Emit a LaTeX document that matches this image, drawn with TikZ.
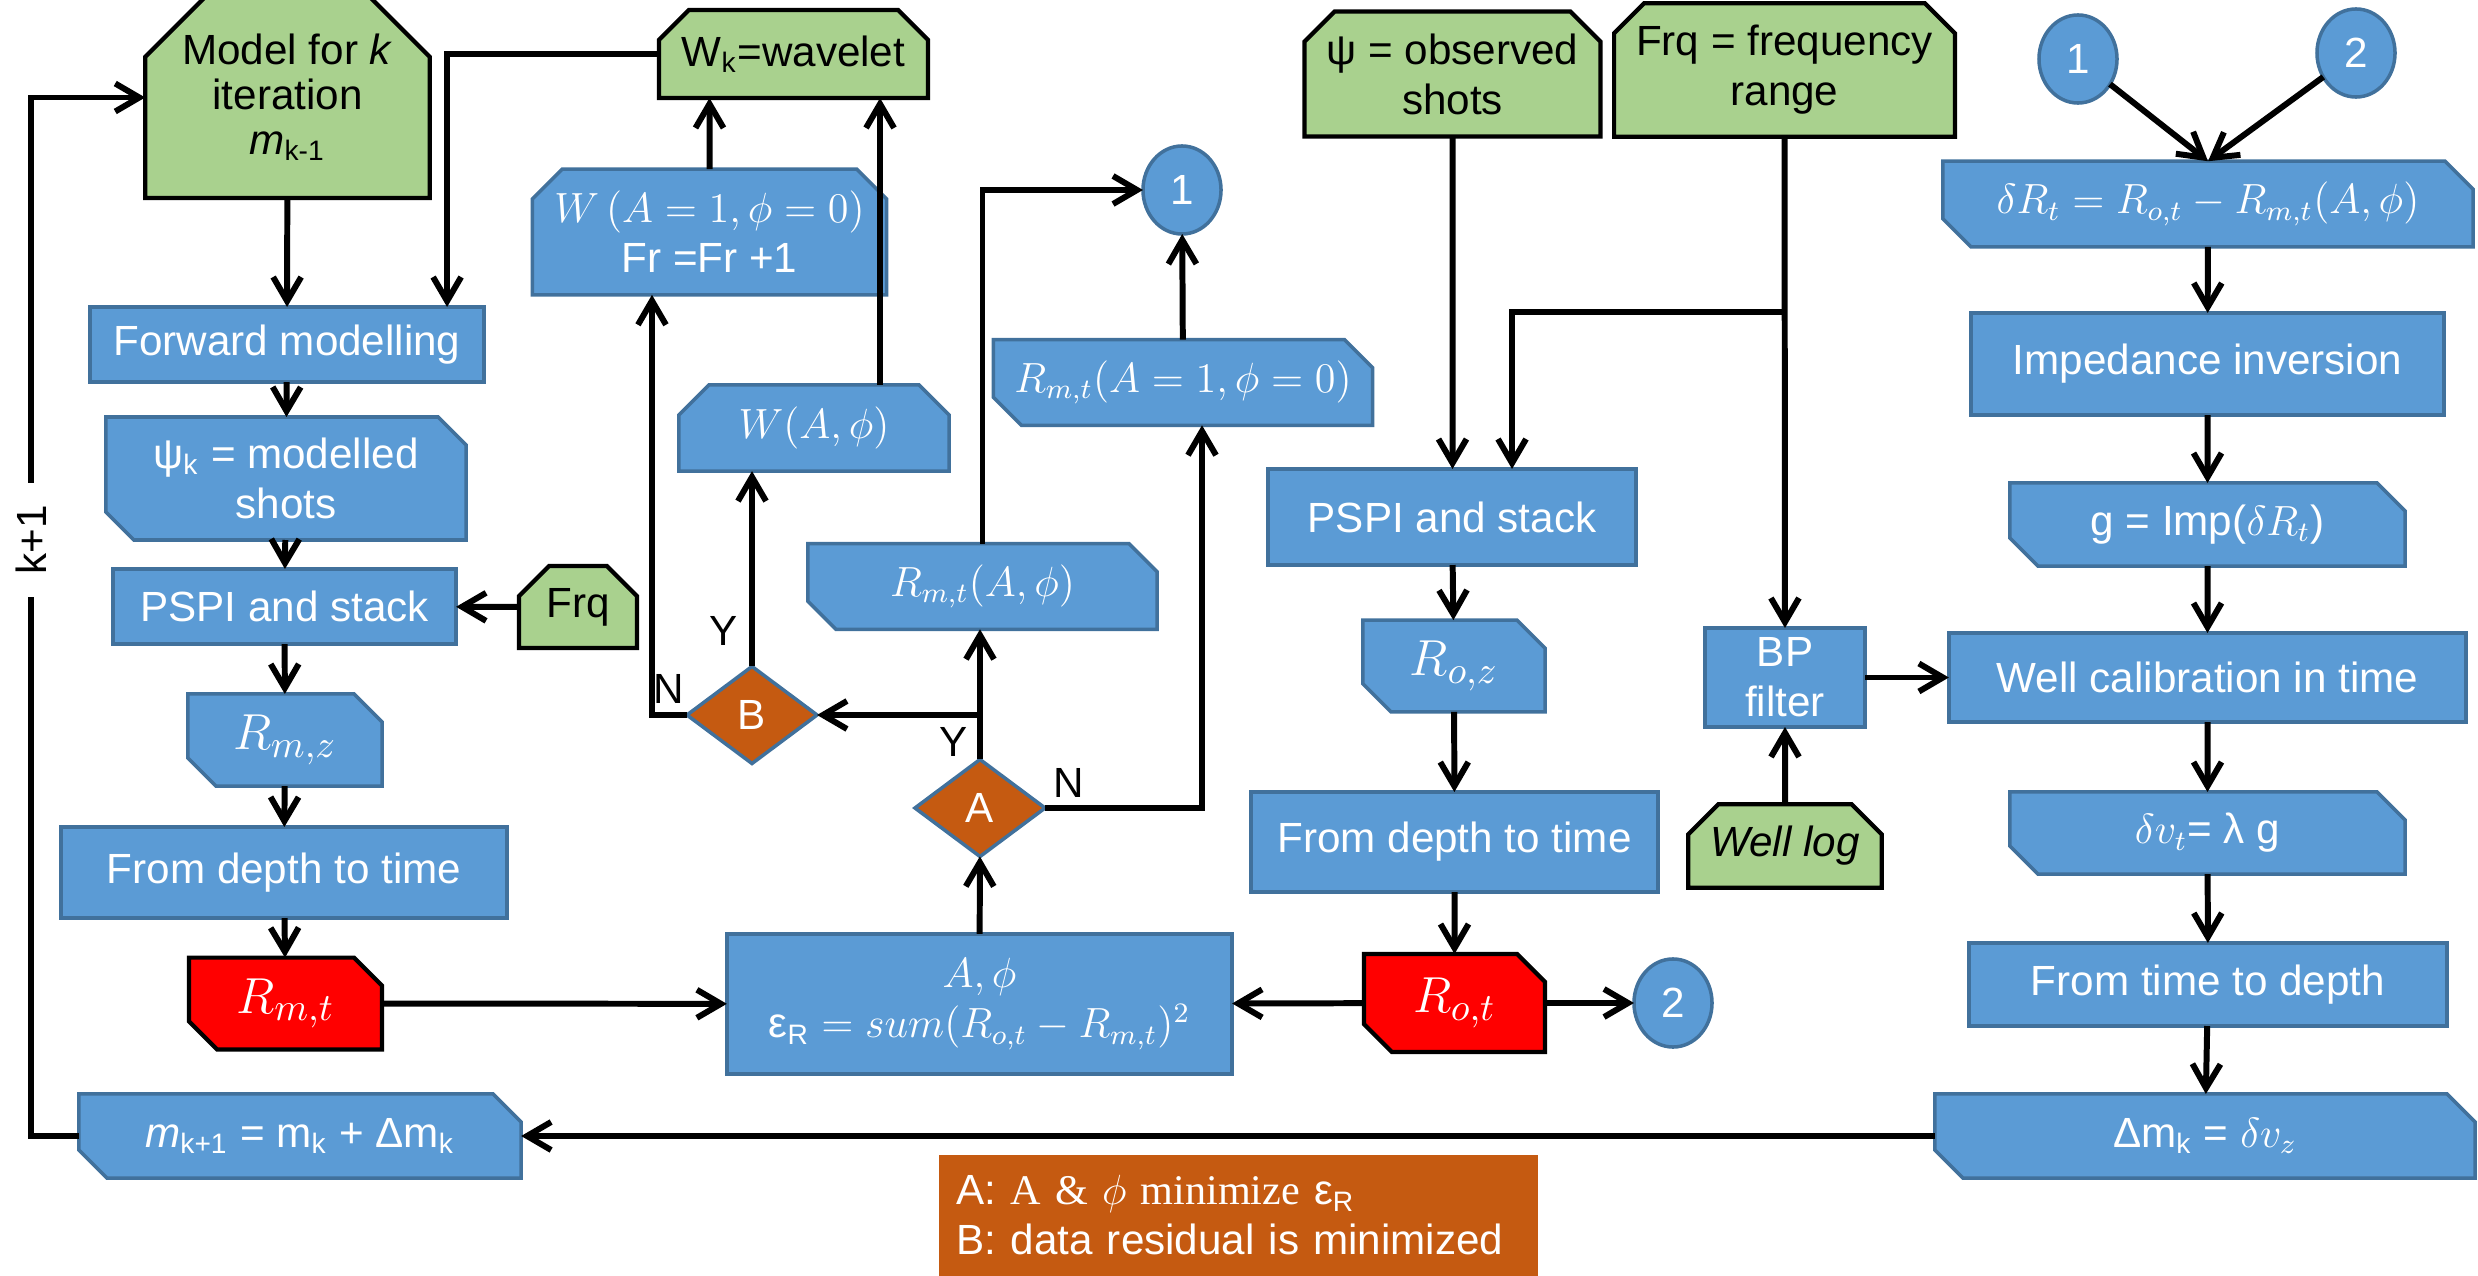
\documentclass[tikz,border=0pt]{standalone}
\usepackage{fontspec}
\setmainfont{Liberation Sans}
\newfontfamily\serifface{Liberation Serif}
\usepackage{tikz}
\usetikzlibrary{
	arrows.meta,
	shapes.geometric,
	shapes.misc
}
\definecolor{BoxBlue}{RGB}{91,155,213}
\definecolor{EdgeBlue}{RGB}{65,113,156}
\definecolor{LeafGreen}{RGB}{169,209,142}
\definecolor{RustOrange}{RGB}{197,90,17}
\definecolor{HotRed}{RGB}{255,0,0}

\begin{document}
\begin{tikzpicture}[x=0.01cm, y=-0.01cm,
		every node/.style={font=\fontsize{12}{14.2}\selectfont, align=center, inner sep=2pt, outer sep=0pt},
		>={Straight Barb[length=2.4mm, width=2.8mm]},
		flow/.style={->, line width=1.7pt},
		dims/.style 2 args={minimum width=#1, minimum height=#2},
		bluebox/.style={rectangle, fill=BoxBlue, draw=EdgeBlue, line width=1pt, text=white},
		snip/.style={bluebox, chamfered rectangle, chamfered rectangle xsep=1.4mm, chamfered rectangle ysep=1.4mm, chamfered rectangle corners={north east, south west}},
		tophat/.style={chamfered rectangle, chamfered rectangle xsep=1.5mm, chamfered rectangle ysep=1.5mm, chamfered rectangle corners={north west, north east}},
		bluehat/.style={bluebox, tophat},
		inbox/.style={tophat, fill=LeafGreen, draw=black, line width=1.2pt, text=black},
		redbox/.style={snip, fill=HotRed, draw=black, line width=1.2pt},
		link/.style={ellipse, fill=BoxBlue, draw=EdgeBlue, line width=1pt, text=white, minimum width=7.8mm, minimum height=8.8mm, inner sep=0pt},
		decide/.style={diamond, fill=RustOrange, draw=EdgeBlue, line width=1pt, text=white, minimum width=1.3cm, minimum height=0.97cm, inner sep=0pt},
		yn/.style={text=black},
		bigmath/.style={font=\fontsize{15}{17}\selectfont}
	]
	\useasboundingbox (0,0) rectangle (2478,1276);
	% left column
	\node[inbox, chamfered rectangle xsep=3mm, chamfered rectangle ysep=3mm, dims={2.57cm}{1.87cm}, font=\fontsize{12}{12.8}\selectfont] (model) at (287.5,97.5) {Model for \textit{k}\\iteration\\\textit{m}\textsubscript{k-1}};
	\node[bluebox, dims={3.94cm}{0.75cm}] (fwd) at (287,344.5) {Forward modelling};
	\node[snip, dims={3.60cm}{0.93cm}] (psik) at (286,478.5) {ψ\textsubscript{k} = modelled\\shots};
	\node[bluebox, dims={3.43cm}{0.75cm}] (psp1) at (284.5,606.5) {PSPI and stack};
	\node[inbox, dims={1.18cm}{0.66cm}] (frq) at (578,607) {Frq};
	\node[snip, bigmath, dims={1.94cm}{0.92cm}] (rmz) at (285,740) {$R_{m,z}$};
	\node[bluebox, dims={4.46cm}{0.91cm}] (dtt1) at (284,872.5) {From depth to time};
	\node[redbox, bigmath, dims={1.93cm}{0.91cm}] (rmt) at (285.5,1003.5) {$R_{m,t}$};
	\node[snip, dims={4.42cm}{0.84cm}] (mk1) at (300,1136) {\textit{m}\textsubscript{k+1} = m\textsubscript{k} + Δm\textsubscript{k}};
	% wavelet and tests
	\node[inbox, dims={2.69cm}{0.88cm}] (wk) at (793.5,54) {W\textsubscript{k}=wavelet};
	\node[bluehat, dims={3.01cm}{1.04cm}] (wa1) at (709.5,232) {$W\,(A=1,\phi=0)$\\Fr =Fr +1};
	\node[bluehat, dims={2.70cm}{0.78cm}] (wap) at (814,428) {$W(A,\phi)$};
	\node[link] (c1) at (1182,190) {1};
	\node[snip, dims={3.76cm}{0.73cm}] (ra1) at (1183,382.5) {$R_{m,t}(A=1,\phi=0)$};
	\node[snip, dims={3.49cm}{0.73cm}] (rapf) at (982.5,586.5) {$R_{m,t}(A,\phi)$};
	\node[decide] (B) at (752,715) {B};
	\node[decide] (A) at (980,808) {A};
	\node[bluebox, dims={5.05cm}{1.40cm}] (aphi) at (979.5,1004) {$A,\phi$\\ε\textsubscript{R} $= sum(R_{o,t}-R_{m,t})^2$};
	\node[yn] (bn) at ([shift={(-18,-26)}]B.west) {N};
	\node[yn] (by) at ([shift={(-28,-35)}]B.north) {Y};
	\node[yn] (ay) at ([shift={(-26,-17)}]A.north) {Y};
	\node[yn] (an) at ([shift={(24,-25)}]A.east) {N};
	% observed data
	\node[inbox, dims={2.61cm}{1.06cm}] (psio) at (1452.5,74) {ψ = observed\\shots};
	\node[inbox, dims={3.21cm}{0.96cm}] (frqr) at (1784.5,70) {Frq = frequency\\range};
	\node[bluebox, dims={3.68cm}{0.96cm}] (psp2) at (1452,517) {PSPI and stack};
	\node[snip, bigmath, dims={1.82cm}{0.88cm}] (roz) at (1454,666) {$R_{o,z}$};
	\node[bluebox, dims={4.07cm}{1.00cm}] (dtt2) at (1454.5,842) {From depth to time};
	\node[redbox, bigmath, dims={1.81cm}{0.98cm}] (rot) at (1454.5,1003) {$R_{o,t}$};
	\node[link] (c2b) at (1673,1003) {2};
	\node[bluebox, dims={1.60cm}{0.99cm}] (bp) at (1785,677.5) {BP\\filter};
	\node[inbox, dims={1.70cm}{0.78cm}] (wl) at (1785,846) {\textit{Well log}};
	% right column
	\node[link] (c1r) at (2078,59) {1};
	\node[link] (c2r) at (2356,53) {2};
	\node[snip, dims={5.30cm}{0.84cm}] (dR) at (2208,204) {$\delta R_t = R_{o,t} - R_{m,t}(A,\phi)$};
	\node[bluebox, dims={4.73cm}{1.02cm}] (imp) at (2207.5,364) {Impedance inversion};
	\node[snip, dims={3.95cm}{0.83cm}] (gbox) at (2207.5,524.5) {g = Imp($\delta R_t$)};
	\node[bluebox, dims={5.17cm}{0.89cm}] (wc) at (2207.5,677.5) {Well calibration in time};
	\node[snip, dims={3.95cm}{0.82cm}] (dv) at (2207.5,833) {$\delta v_t$= λ g};
	\node[bluebox, dims={4.78cm}{0.83cm}] (t2d) at (2208,984.5) {From time to depth};
	\node[snip, dims={5.40cm}{0.84cm}] (dm) at (2205,1136) {Δm\textsubscript{k} = $\delta v_z$};
	% key
	\node[fill=RustOrange, text=white, align=left, text width=5.63cm, inner xsep=1.8mm, minimum height=1.21cm] (key) at (1238.5,1215.5) {A: {\serifface A \& $\phi$ minimize} ε\textsubscript{R}\\B: data residual is minimized};

	% connectors, left column
	\draw[flow] (model) -- (fwd);
	\draw[flow] (wk.west) -| ([xshift=1.6cm]fwd.north);
	\draw[flow] (fwd) -- (psik);
	\draw[flow] (psik) -- (psp1);
	\draw[flow] (frq) -- (psp1);
	\draw[flow] (psp1) -- (rmz);
	\draw[flow] (rmz) -- (dtt1);
	\draw[flow] (dtt1) -- (rmt);
	\draw[flow] (rmt) -- (aphi);
	% tests A and B
	\draw[flow] (aphi) -- (A);
	\draw[flow] (A) -- (A |- rapf.south);
	\draw[flow] (A |- B) -- (B.east);
	\draw[flow] (A.east) -| ([xshift=0.19cm]ra1.south);
	\draw[flow] (ra1) -- (c1);
	\draw[flow] (rapf.north) |- (c1.west);
	\draw[flow] (B.north) -- (B.north |- wap.south);
	\draw[flow] (B.west) -| ([xshift=-0.575cm]wa1.south);
	\draw[flow] (wa1) -- (wa1 |- wk.south);
	\coordinate (wapout) at ([xshift=0.66cm]wap.north);
	\draw[flow] (wapout) -- (wapout |- wk.south);
	% observed branch
	\draw[flow] (psio) -- (psio |- psp2.north);
	\coordinate (split) at ([yshift=-1.75cm]frqr.south);
	\draw[flow] (frqr) -- (bp);
	\draw[flow] (split) -| ([xshift=0.6cm]psp2.north);
	\draw[flow] (psp2) -- (roz);
	\draw[flow] (roz) -- (dtt2);
	\draw[flow] (dtt2) -- (rot);
	\draw[flow] (rot) -- (aphi);
	\draw[flow] (rot) -- (c2b);
	\draw[flow] (wl) -- (bp);
	\draw[flow] (bp) -- (wc);
	% right column
	\draw[flow] (c1r) -- (dR.north);
	\draw[flow] (c2r) -- (dR.north);
	\draw[flow] (dR) -- (imp);
	\draw[flow] (imp) -- (gbox);
	\draw[flow] (gbox) -- (wc);
	\draw[flow] (wc) -- (dv);
	\draw[flow] (dv) -- (t2d);
	\draw[flow] (t2d) -- (dm);
	\draw[flow] (dm) -- (mk1);
	% update loop
	\draw[flow] (mk1.west) -- ++(-48,0) |- node[pos=0.287, fill=white, rotate=90, inner xsep=2.2mm, inner ysep=1pt] (kk) {k+1} (model.west);
\end{tikzpicture}
\end{document}
